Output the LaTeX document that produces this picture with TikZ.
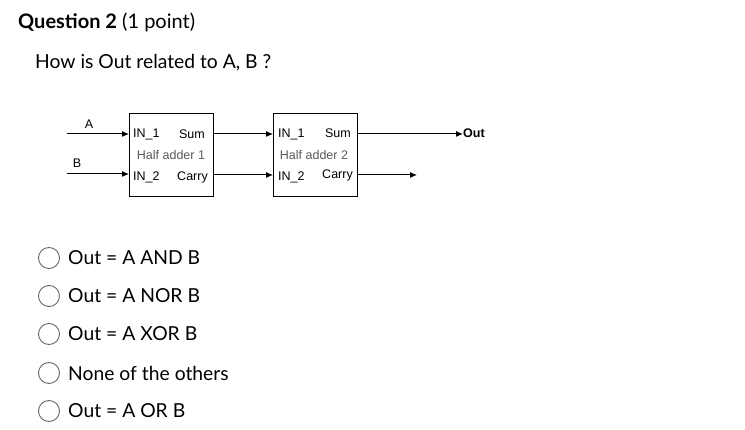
\documentclass[tikz,border=0pt]{standalone}
\usepackage{fontspec}
\setmainfont{Lato}
\newfontfamily\arialf{Liberation Sans}
\usetikzlibrary{arrows.meta}
\begin{document}
\begin{tikzpicture}[x=1pt,y=-1pt,
  blk/.style={draw,line width=1pt,minimum width=84pt,minimum height=83pt,anchor=north west},
  lab/.style={font=\arialf\fontsize{12.5}{14}\selectfont,inner sep=0pt},
  gray lab/.style={lab,text=black!65},
  w/.style={line width=1pt,-{Latex[length=7pt,width=6pt]}},
  opt/.style={anchor=west,font=\fontsize{19.3}{22}\selectfont,inner sep=0pt},
  rad/.style={draw=black!60,circle,minimum size=21pt,inner sep=0pt,line width=0.9pt}]
\useasboundingbox (0,0) rectangle (745,430);
\node[anchor=west,inner sep=0pt,font=\fontsize{20}{24}\selectfont] (q) at (18,22) {\textbf{Question 2} (1 point)};
\node[anchor=west,inner sep=0pt,font=\fontsize{19.3}{22}\selectfont] (h) at (35,63) {How is Out related to A, B ?};
\node[blk] (b1) at (129,113) {};
\node[blk] (b2) at (273,113) {};
\coordinate (a0) at (67,134);
\coordinate (bb0) at (67,174);
\node[lab] (la) at (89,124) {A};
\node[lab] (lb) at (77,163) {B};
\node[lab,anchor=west] (i11) at (133,134) {IN\_1};
\node[lab,anchor=east] (s1) at (205,134) {Sum};
\node[gray lab] (n1) at (171,155) {Half adder 1};
\node[lab,anchor=west] (i12) at (133,177) {IN\_2};
\node[lab,anchor=east] (c1) at (208,177) {Carry};
\node[lab,anchor=west] (i21) at (278,134) {IN\_1};
\node[lab,anchor=east] (s2) at (351,133) {Sum};
\node[gray lab] (n2) at (314,155) {Half adder 2};
\node[lab,anchor=west] (i22) at (278,177) {IN\_2};
\node[lab,anchor=east] (c2) at (353,175) {Carry};
\coordinate (o1) at (463,134);
\coordinate (o2) at (417,175);
\node[lab,anchor=west,font=\arialf\bfseries\fontsize{12.5}{14}\selectfont] (out) at (463,133) {Out};
\draw[w] (a0) -- (a0 -| b1.west);
\draw[w] (bb0) -- (bb0 -| b1.west);
\draw[w] (b1.east |- 0,134) -- (b2.west |- 0,134);
\draw[w] (b1.east |- 0,175) -- (b2.west |- 0,175);
\draw[w] (b2.east |- o1) -- (o1);
\draw[w] (b2.east |- o2) -- (o2);
\foreach \y/\t [count=\i] in {258/Out = A AND B,296/Out = A NOR B,334/Out = A XOR B,373/None of the others,411/Out = A OR B}{
  \node[rad] (r\i) at (49,\y) {};
  \node[opt] (t\i) at (68,\y) {\t};
}
\end{tikzpicture}
\end{document}
